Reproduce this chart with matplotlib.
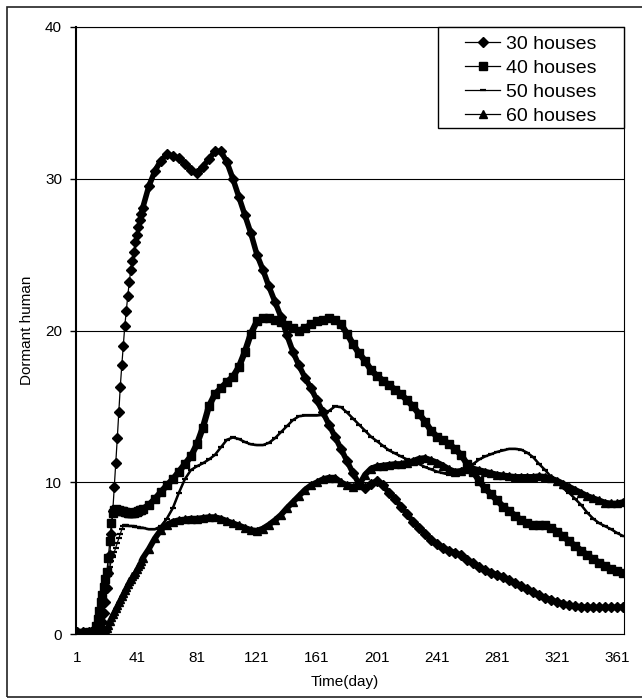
import matplotlib
matplotlib.use('Agg')
import matplotlib.pyplot as plt
from matplotlib.patches import Rectangle

plt.rcParams['font.family'] = ['Liberation Sans', 'DejaVu Sans']

# sampling days: every 4 days, daily through the early outbreak
days = [1, 5, 9] + list(range(13, 45)) + list(range(45, 366, 4))

houses30 = [0.1, 0.1, 0.1,
            # days 13-44
            0.1, 0.1, 0.15, 0.2, 0.4, 0.8, 1.4, 2.1, 3.0, 4.0, 5.2, 6.6,
            8.1, 9.7, 11.3, 12.9, 14.6, 16.3, 17.7, 19.0, 20.3, 21.3,
            22.3, 23.2, 24.0, 24.6, 25.2, 25.8, 26.3, 26.8, 27.3, 27.7,
            # days 45-365
            28.1, 29.5, 30.5, 31.2, 31.6,
            31.5, 31.35, 31.0, 30.6, 30.35,
            30.8, 31.3, 31.8, 31.8, 31.1,
            30.0, 28.8, 27.6, 26.4, 25.0,
            24.0, 22.9, 21.9, 20.9, 19.7,
            18.6, 17.7, 16.9, 16.2, 15.4,
            14.6, 13.8, 13.0, 12.2, 11.4,
            10.6, 9.9, 9.6, 9.9, 10.1,
            9.8, 9.3, 8.9, 8.4, 7.9,
            7.4, 7.0, 6.6, 6.2, 5.9,
            5.7, 5.5, 5.35, 5.2, 4.9,
            4.65, 4.4, 4.2, 4.05, 3.9,
            3.75, 3.55, 3.35, 3.15, 2.95,
            2.75, 2.55, 2.4, 2.25, 2.1,
            2.0, 1.9, 1.83, 1.79, 1.76,
            1.75, 1.75, 1.75, 1.75, 1.76,
            1.78]

houses40 = [0.05, 0.05, 0.1,
            0.2, 0.5, 1.0, 1.5, 2.1, 2.6, 3.1, 3.6, 4.1, 5.0, 6.1, 7.3,
            8.0, 8.2, 8.25, 8.2, 8.15, 8.1, 8.1, 8.1, 8.05, 8.05,
            8.0, 8.0, 8.0, 8.0, 8.0, 8.05, 8.05, 8.1, 8.15, 8.2,
            8.25, 8.5, 8.9, 9.35, 9.8,
            10.2, 10.7, 11.2, 11.7, 12.5,
            13.6, 15.0, 15.8, 16.2, 16.6,
            16.95, 17.6, 18.6, 19.8, 20.6,
            20.8, 20.8, 20.7, 20.55, 20.35,
            20.15, 20.0, 20.15, 20.4, 20.6,
            20.7, 20.8, 20.7, 20.4, 19.8,
            19.1, 18.5, 18.0, 17.4, 17.0,
            16.7, 16.4, 16.1, 15.8, 15.4,
            15.0, 14.5, 14.0, 13.4, 13.0,
            12.8, 12.5, 12.2, 11.8, 11.2,
            10.7, 10.1, 9.6, 9.2, 8.8,
            8.4, 8.1, 7.8, 7.5, 7.3,
            7.15, 7.2, 7.2, 7.0, 6.75,
            6.45, 6.1, 5.8, 5.5, 5.2,
            4.95, 4.7, 4.5, 4.3, 4.15,
            4.05]

houses50 = [0.05, 0.05, 0.05,
            0.05, 0.1, 0.15, 0.3, 0.8, 1.6, 2.4, 3.0, 3.5, 4.0, 4.4, 4.8,
            5.1, 5.4, 5.7, 6.0, 6.3, 6.6, 6.9, 7.1, 7.15, 7.15,
            7.1, 7.1, 7.1, 7.1, 7.1, 7.05, 7.05, 7.05, 7.0, 7.0,
            7.0, 6.9, 6.9, 7.1, 7.6,
            8.3, 9.3, 10.2, 10.8, 11.05,
            11.25, 11.5, 11.8, 12.3, 12.8,
            12.95, 12.85, 12.65, 12.5, 12.45,
            12.45, 12.6, 12.9, 13.3, 13.7,
            14.1, 14.35, 14.4, 14.4, 14.4,
            14.45, 14.7, 15.0, 14.95, 14.6,
            14.2, 13.8, 13.4, 13.0, 12.7,
            12.4, 12.1, 11.9, 11.7, 11.5,
            11.35, 11.2, 11.0, 10.85, 10.7,
            10.6, 10.5, 10.5, 10.55, 10.9,
            11.2, 11.5, 11.7, 11.85, 12.0,
            12.1, 12.2, 12.2, 12.15, 11.95,
            11.65, 11.2, 10.8, 10.35, 10.0,
            9.6, 9.3, 8.9, 8.5, 8.0,
            7.6, 7.3, 7.1, 6.9, 6.65,
            6.45]

houses60 = [0.05, 0.05, 0.05,
            0.05, 0.05, 0.05, 0.05, 0.05, 0.1, 0.15, 0.25, 0.4, 0.6, 0.85, 1.1,
            1.3, 1.5, 1.7, 1.9, 2.1, 2.3, 2.5, 2.7, 2.9, 3.1,
            3.3, 3.5, 3.65, 3.8, 3.95, 4.1, 4.3, 4.45, 4.6, 4.8,
            5.0, 5.6, 6.3, 6.85, 7.2,
            7.4, 7.5, 7.55, 7.6, 7.6,
            7.65, 7.7, 7.7, 7.6, 7.45,
            7.3, 7.15, 7.0, 6.85, 6.8,
            6.95, 7.2, 7.5, 7.85, 8.3,
            8.7, 9.1, 9.5, 9.8, 10.0,
            10.2, 10.3, 10.3, 10.0, 9.8,
            9.7, 9.8, 10.5, 10.9, 11.05,
            11.1, 11.15, 11.2, 11.2, 11.3,
            11.4, 11.55, 11.6, 11.45, 11.3,
            11.1, 10.85, 10.7, 10.75, 10.9,
            10.9, 10.8, 10.7, 10.6, 10.5,
            10.45, 10.4, 10.35, 10.35, 10.35,
            10.35, 10.4, 10.35, 10.25, 10.1,
            9.9, 9.7, 9.5, 9.3, 9.1,
            8.95, 8.8, 8.65, 8.6, 8.6,
            8.7]

series = [
    (houses30, '30 houses', dict(marker='D', ms=5), 4.0),
    (houses40, '40 houses', dict(marker='s', ms=5.5), 4.5),
    (houses50, '50 houses', dict(marker='_', ms=4, mew=1.6), 1.8),
    (houses60, '60 houses', dict(marker='^', ms=6), 4.2),
]

fig = plt.figure(figsize=(6.42, 6.98), dpi=100)
ax = fig.add_axes([76 / 642, 64 / 698, 548 / 642, 607 / 698])

# from day 44 on the markers run together into a solid band
start = days.index(44)
for values, name, style, band in series:
    ax.plot(days[start:], values[start:], color='black', lw=band, solid_capstyle='round')
    ax.plot(days, values, color='black', lw=0.9, label=name, **style)

ax.set_xlim(0.5, 365.5)
ax.set_ylim(0, 40)
ax.set_xticks(range(1, 366, 40))
ax.set_yticks(range(0, 41, 10))
ax.yaxis.grid(True, color='black', lw=0.8)
ax.set_axisbelow(True)
ax.tick_params(axis='x', length=0, pad=12, labelsize=11)
ax.tick_params(axis='y', length=4, width=1, direction='out', pad=6, labelsize=11)
for side in ['top', 'right', 'bottom']:
    ax.spines[side].set_linewidth(0.8)
ax.spines['left'].set_linewidth(1.5)

ax.set_xlabel('Time(day)', fontsize=11)
ax.set_ylabel('Dormant human', fontsize=11)
ax.xaxis.set_label_coords(0.49, -0.067)
ax.yaxis.set_label_coords(-0.077, 0.5)

# legend box
ax.add_patch(Rectangle((0.6606, 0.834), 0.3394, 0.166, transform=ax.transAxes,
                       facecolor='white', edgecolor='black', lw=1, zorder=5, clip_on=False))
leg = ax.legend(loc='upper left', bbox_to_anchor=((465 - 76) / 548, 0.986), frameon=False,
                borderpad=0, borderaxespad=0, handlelength=1.8, handletextpad=0.3,
                labelspacing=0.33, fontsize=14)
leg.set_zorder(6)

# border round the whole chart
fig.patches.append(Rectangle((6.5 / 642, 1.5 / 698), 1.05, 690 / 698, transform=fig.transFigure,
                             fill=False, edgecolor='#222222', lw=1.2))

plt.savefig('out.png', dpi=100)
